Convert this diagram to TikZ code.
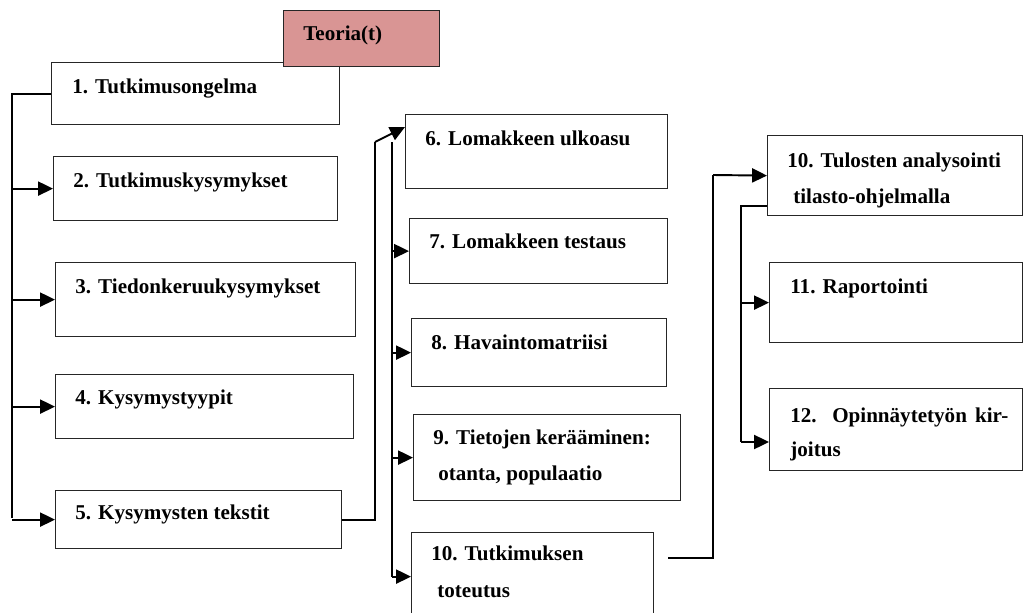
\documentclass[tikz,border=0pt]{standalone}
\usepackage{fontspec}
\setmainfont{Liberation Serif}
\usetikzlibrary{arrows.meta,calc}
\definecolor{teoriapink}{HTML}{D99594}
\begin{document}
\begin{tikzpicture}[x=0.02cm,y=-0.02cm,
        laatikko/.style={draw=black!85,line width=0.7pt,fill=white,anchor=north west,inner sep=0pt},
        teksti/.style={anchor=base west,inner sep=0pt,font=\fontsize{12}{14}\selectfont\bfseries},
        viiva/.style={line width=1.1pt},
        nuoli/.style={line width=1.1pt,-{Triangle[length=8.5pt,width=8pt]}}]
            \clip (0,0) rectangle (1024,612);

            \foreach \n/\x/\y/\w/\h in {b1/51/62/5.76/1.24, b2/53/156/5.68/1.28, b3/55/262/6.0/1.48,
                b4/55/374/5.96/1.28, b5/55/490/5.72/1.16, b6/405/114/5.24/1.48, b7/409/218/5.16/1.30,
                b8/411/318/5.10/1.36, b9/413/414/5.34/1.72, b10/411/532/4.84/1.76,
                b13/767/135/5.10/1.60, b11/769/262/5.06/1.60, b12/769/388/5.06/1.64}
            {
                \node[laatikko,minimum width=\w cm,minimum height=\h cm] (\n) at (\x,\y) {};
            }
            \node[laatikko,fill=teoriapink,minimum width=3.12cm,minimum height=1.12cm] (teoria) at (283,10) {};

            \foreach \n/\x/\y/\t in {tt/303/40/{Teoria(t)}, t1/72/93/{1. Tutkimusongelma},
                t2/73/187/{2. Tutkimuskysymykset}, t3/75/293/{3. Tiedonkeruukysymykset},
                t4/75/404/{4. Kysymystyypit}, t5/75/519/{5. Kysymysten tekstit},
                t6/425/145/{6. Lomakkeen ulkoasu}, t7/429/248/{7. Lomakkeen testaus},
                t8/431/349/{8. Havaintomatriisi}, t9/433/444/{9. Tietojen kerääminen:},
                t9b/438/480/{otanta, populaatio}, t10/431/560/{10. Tutkimuksen},
                t10b/437/597/{toteutus}, t13/787/167/{10. Tulosten analysointi},
                t13b/793/203/{tilasto-ohjelmalla}, t11/790/293/{11. Raportointi},
                t12/790/422/{\makebox[4.36cm][s]{12. Opinnäytetyön kir-}}, t12b/790/456/{joitus}}
            {
                \node[teksti] (\n) at (\x,\y) {\t};
            }

            \coordinate (v1) at (12,518);
            \draw[viiva] (b1.west) -| (v1);
            \foreach \n in {b2,b3,b4,b5}
            {
                \draw[nuoli] (\n.west -| v1) -- (\n.west);
            }

            \coordinate (v2) at (375,142);
            \coordinate (v3) at (392,142);
            \draw[viiva] (b5.east) -| (v2);
            \draw[nuoli] (v2) -- ($(b6.north west)+(0,13)$);
            \draw[viiva] (v3) -- (v3 |- b10.west);
            \foreach \n in {b7,b8,b9,b10}
            {
                \draw[nuoli] (v3 |- \n.west) -- (\n.west);
            }

            \coordinate (v4) at (713,175);
            \draw[viiva] ($(b10.north east)+(14,26)$) -| (v4);
            \draw[nuoli] (v4) -- (b13.west);

            \coordinate (v5) at (741,442);
            \coordinate (k12) at ($(b12.north west)+(0,54)$);
            \draw[viiva] ($(b13.south west)+(0,-10)$) -| (v5);
            \draw[nuoli] (v5 |- b11.west) -- (b11.west);
            \draw[nuoli] (v5) -- (k12);
        \end{tikzpicture}
\end{document}
